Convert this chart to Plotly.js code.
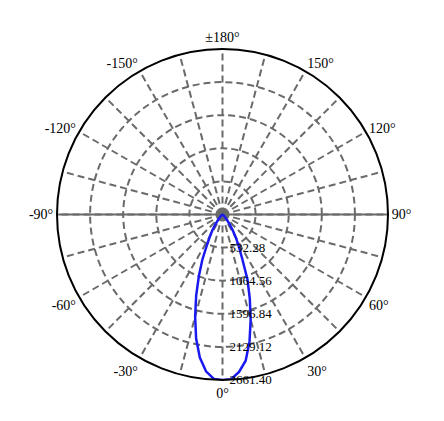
<!DOCTYPE html>
<html>
<head>
<meta charset="utf-8">
<script src="https://cdn.plot.ly/plotly-3.0.1.min.js"></script>
<style>
  html, body { margin: 0; padding: 0; background: #fff; }
  #chart { width: 444px; height: 421px; }
</style>
</head>
<body>
<div id="chart"></div>
<script>
// candela curve, degrees (0 = down, +90 = right)
var angles = [-90, -80, -70, -60, -50, -45, -40, -36, -33, -30, -27, -24, -21, -18, -15, -12, -9, -6, -3,
              0, 3, 6, 9, 12, 15, 18, 21, 24, 27, 30, 33, 36, 40, 45, 50, 60, 70, 80, 90];
var intensity = [0, 0, 2, 8, 25, 55, 105, 190, 290, 400, 550, 800, 1060, 1370, 1700, 2040, 2330, 2535, 2648,
                 2661.4, 2652, 2545, 2380, 2090, 1750, 1420, 1120, 780, 580, 430, 300, 200, 110, 55, 25, 8, 2, 0, 0];

var gridAngles = [];
for (var a = 0; a < 360; a += 15) gridAngles.push(a);
var angleLabels = {0: "0°", 30: "30°", 60: "60°", 90: "90°", 120: "120°", 150: "150°", 180: "±180°",
                   210: "-150°", 240: "-120°", 270: "-90°", 300: "-60°", 330: "-30°"};
var angleText = gridAngles.map(function(a) { return angleLabels[a] || ""; });

var radialTicks = [532.28, 1064.56, 1596.84, 2129.12, 2661.40];
// nbsp pushes the labels a little off the axis, like the original
var radialText = radialTicks.map(function(v) { return "\u00a0\u00a0" + v.toFixed(2); });

var trace = {
    type: "scatterpolar",
    mode: "lines",
    theta: angles,
    r: intensity,
    line: {color: "#1a1af0", width: 2.5},
    hoverinfo: "skip"
};

var layout = {
    width: 444,
    height: 421,
    margin: {l: 57, r: 56, t: 49, b: 41},
    paper_bgcolor: "#fff",
    showlegend: false,
    font: {family: "Liberation Serif", color: "#000"},
    shapes: [{
        type: "line", xref: "paper", yref: "paper",
        x0: 0, x1: 1, y0: 0.5, y1: 0.5,
        line: {color: "#6a6a6a", width: 2},
        layer: "below"
    }],
    polar: {
        bgcolor: "rgba(0,0,0,0)",
        angularaxis: {
            rotation: -90,
            direction: "counterclockwise",
            tickmode: "array",
            tickvals: gridAngles,
            ticktext: angleText,
            ticks: "",
            tickfont: {family: "Liberation Serif", size: 14, color: "#000"},
            showline: true,
            linecolor: "#000",
            linewidth: 2,
            gridcolor: "#6a6a6a",
            gridwidth: 2,
            griddash: "7px,4px"
        },
        radialaxis: {
            range: [0, 2661.4],
            angle: -90,
            side: "counterclockwise",
            tickmode: "array",
            tickvals: radialTicks,
            ticktext: radialText,
            ticks: "",
            tickangle: -90,
            tickfont: {family: "Liberation Serif", size: 13, color: "#000"},
            showline: false,
            gridcolor: "#6a6a6a",
            gridwidth: 2,
            griddash: "7px,4px"
        }
    }
};

Plotly.newPlot("chart", [trace], layout, {displayModeBar: false, staticPlot: true});
</script>
</body>
</html>
